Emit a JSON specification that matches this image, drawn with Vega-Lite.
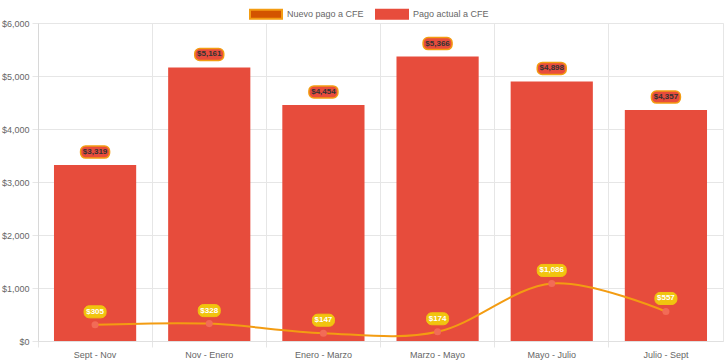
{
  "$schema": "https://vega.github.io/schema/vega-lite/v6.json",
  "width": 685,
  "height": 318,
  "autosize": {"type": "none"},
  "padding": {"left": 38, "top": 23, "right": 5, "bottom": 22},
  "config": {
    "font": "Liberation Sans",
    "view": {"stroke": "#e6e6e6"}
  },
  "data": {
    "values": [
      {"periodo": "Sept - Nov", "actual": 3319, "nuevo": 305},
      {"periodo": "Nov - Enero", "actual": 5161, "nuevo": 328},
      {"periodo": "Enero - Marzo", "actual": 4454, "nuevo": 147},
      {"periodo": "Marzo - Mayo", "actual": 5366, "nuevo": 174},
      {"periodo": "Mayo - Julio", "actual": 4898, "nuevo": 1086},
      {"periodo": "Julio - Sept", "actual": 4357, "nuevo": 557}
    ]
  },
  "encoding": {
    "x": {
      "field": "periodo",
      "type": "nominal",
      "sort": null,
      "scale": {"paddingInner": 0, "paddingOuter": 0},
      "axis": {
        "title": null,
        "bandPosition": 0,
        "labelAngle": 0,
        "grid": true,
        "gridColor": "#e6e6e6",
        "tickColor": "#e6e6e6",
        "tickSize": 6,
        "domainColor": "#e0e0e0",
        "labelFontSize": 9,
        "labelColor": "#666",
        "labelPadding": 3
      }
    }
  },
  "layer": [
    {
      "mark": {"type": "bar", "width": {"band": 0.72}, "color": "#e74c3c"},
      "encoding": {
        "y": {
          "field": "actual",
          "type": "quantitative",
          "scale": {"domain": [0, 6000]},
          "axis": {
            "title": null,
            "values": [0, 1000, 2000, 3000, 4000, 5000, 6000],
            "format": "$,.0f",
            "labelFontSize": 9,
            "labelColor": "#666",
            "gridColor": "#e6e6e6",
            "tickColor": "#e6e6e6",
            "tickSize": 6,
            "labelPadding": 3,
            "domainColor": "#d8d8d8"
          }
        },
        "color": {
          "datum": "Pago actual a CFE",
          "type": "nominal",
          "scale": {"domain": ["Nuevo pago a CFE", "Pago actual a CFE"], "range": ["#d35400", "#e74c3c"]},
          "legend": {
            "title": null,
            "orient": "none",
            "legendX": 211,
            "legendY": -26,
            "direction": "horizontal",
            "symbolType": "M-1,-0.28H1V0.28H-1Z",
            "symbolSize": 1024,
            "symbolStrokeWidth": 2,
            "labelFontSize": 9,
            "labelColor": "#666",
            "labelOffset": 4,
            "columnPadding": 8,
            "encode": {
              "symbols": {
                "update": {
                  "stroke": {"signal": "datum.value === 'Nuevo pago a CFE' ? '#f39c12' : '#e74c3c'"},
                  "strokeWidth": {"value": 2}
                }
              }
            }
          }
        }
      }
    },
    {
      "mark": {
        "type": "point",
        "shape": "M-9.5,-6H9.5A5,5 0 0 1 14.5,-1V1A5,5 0 0 1 9.5,6H-9.5A5,5 0 0 1 -14.5,1V-1A5,5 0 0 1 -9.5,-6Z",
        "size": 4,
        "filled": true,
        "fill": "#e74c3c",
        "stroke": "#f39c12",
        "strokeWidth": 1.5,
        "opacity": 1,
        "yOffset": -13
      },
      "encoding": {"y": {"field": "actual", "type": "quantitative"}}
    },
    {
      "mark": {"type": "text", "fontSize": 8, "fontWeight": "bold", "color": "#333", "baseline": "middle", "yOffset": -13},
      "encoding": {
        "y": {"field": "actual", "type": "quantitative"},
        "text": {"field": "actual", "type": "quantitative", "format": "$,.0f"}
      }
    },
    {
      "mark": {"type": "line", "interpolate": "cardinal", "color": "#f39c12", "strokeWidth": 2},
      "encoding": {"y": {"field": "nuevo", "type": "quantitative"}}
    },
    {
      "mark": {"type": "point", "filled": true, "fill": "#f26b57", "size": 50, "opacity": 1},
      "encoding": {"y": {"field": "nuevo", "type": "quantitative"}}
    },
    {
      "mark": {
        "type": "point",
        "size": 4,
        "filled": true,
        "fill": "#f1c40f",
        "stroke": "#f1c40f",
        "strokeWidth": 1,
        "opacity": 1,
        "yOffset": -13
      },
      "encoding": {
        "y": {"field": "nuevo", "type": "quantitative"},
        "shape": {
          "condition": {"test": "datum.nuevo >= 1000", "value": "M-9.5,-6H9.5A5,5 0 0 1 14.5,-1V1A5,5 0 0 1 9.5,6H-9.5A5,5 0 0 1 -14.5,1V-1A5,5 0 0 1 -9.5,-6Z"},
          "value": "M-6,-6H6A5,5 0 0 1 11,-1V1A5,5 0 0 1 6,6H-6A5,5 0 0 1 -11,1V-1A5,5 0 0 1 -6,-6Z"
        }
      }
    },
    {
      "mark": {"type": "text", "fontSize": 8, "fontWeight": "bold", "color": "#ffffff", "baseline": "middle", "yOffset": -13},
      "encoding": {
        "y": {"field": "nuevo", "type": "quantitative"},
        "text": {"field": "nuevo", "type": "quantitative", "format": "$,.0f"}
      }
    }
  ]
}
